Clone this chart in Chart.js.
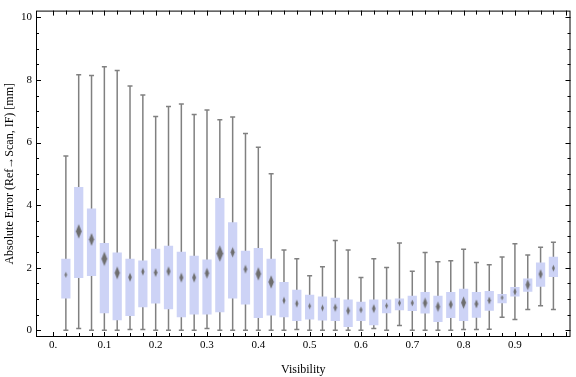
<!DOCTYPE html>
<html>
<head>
<meta charset="utf-8">
<script src="https://cdn.jsdelivr.net/npm/chart.js@4"></script>
<style>
  body { margin: 0; background: #fff; }
  canvas { display: block; }
</style>
</head>
<body>
<canvas id="box" width="576" height="377"></canvas>
<script>
// visibility bins (box centres)
const visibility = [0.025, 0.05, 0.075, 0.1, 0.125, 0.15, 0.175, 0.2, 0.225, 0.25,
  0.275, 0.3, 0.325, 0.35, 0.375, 0.4, 0.425, 0.45, 0.475, 0.5,
  0.525, 0.55, 0.575, 0.6, 0.625, 0.65, 0.675, 0.7, 0.725, 0.75,
  0.775, 0.8, 0.825, 0.85, 0.875, 0.9, 0.925, 0.95, 0.975];

const whiskerLow = [0, 0.05, 0, 0, 0, 0.02, 0.02, 0, 0, 0,
  0, 0.05, 0, 0, 0, 0, 0, 0, 0.02, 0,
  0, 0, 0, 0, 0.05, 0, 0.15, 0, 0, 0,
  0, 0.02, 0.02, 0.03, 0.41, 0.34, 0.66, 0.78, 0.66];

const whiskerHigh = [5.57, 8.17, 8.14, 8.42, 8.30, 7.81, 7.52, 6.83, 7.15, 7.23,
  6.90, 7.04, 6.73, 6.82, 6.29, 5.85, 5.0, 2.56, 2.28, 1.74,
  2.03, 2.87, 2.56, 1.68, 2.28, 2.00, 2.79, 1.88, 2.48, 2.19,
  2.22, 2.59, 2.16, 2.09, 2.34, 2.76, 2.40, 2.65, 2.81];

const q1 = [1.01, 1.67, 1.73, 0.54, 0.32, 0.45, 0.73, 0.85, 0.67, 0.41,
  0.50, 0.50, 0.57, 1.01, 0.82, 0.39, 0.47, 0.41, 0.29, 0.34,
  0.31, 0.29, 0.10, 0.29, 0.16, 0.54, 0.64, 0.61, 0.53, 0.26,
  0.39, 0.29, 0.40, 0.62, 0.86, 1.08, 1.23, 1.39, 1.70];

const q3 = [2.28, 4.58, 3.89, 2.79, 2.48, 2.28, 2.23, 2.60, 2.70, 2.51,
  2.38, 2.26, 4.23, 3.45, 2.54, 2.63, 2.28, 1.54, 1.29, 1.13,
  1.08, 1.04, 0.98, 0.91, 0.98, 0.98, 1.01, 1.10, 1.22, 1.10,
  1.22, 1.32, 1.22, 1.25, 1.16, 1.38, 1.65, 2.16, 2.35];

const mean = [1.77, 3.16, 2.90, 2.28, 1.83, 1.69, 1.87, 1.84, 1.88, 1.68,
  1.68, 1.82, 2.45, 2.49, 1.95, 1.80, 1.54, 0.95, 0.85, 0.77,
  0.71, 0.72, 0.62, 0.65, 0.69, 0.78, 0.87, 0.87, 0.87, 0.75,
  0.82, 0.88, 0.84, 0.95, 1.04, 1.23, 1.45, 1.79, 1.98];

// half height of the mean diamond (confidence interval), in mm
const meanCI = [0.094, 0.235, 0.204, 0.235, 0.204, 0.146, 0.125, 0.141, 0.157, 0.157,
  0.157, 0.172, 0.266, 0.168, 0.141, 0.219, 0.219, 0.12, 0.125, 0.105,
  0.11, 0.136, 0.141, 0.114, 0.146, 0.105, 0.11, 0.114, 0.172, 0.168,
  0.152, 0.199, 0.146, 0.13, 0.089, 0.125, 0.172, 0.157, 0.114];

const xTickValues = [0, 0.1, 0.2, 0.3, 0.4, 0.5, 0.6, 0.7, 0.8, 0.9];
const xTickLabels = ['0.', '0.1', '0.2', '0.3', '0.4', '0.5', '0.6', '0.7', '0.8', '0.9'];
const yTickValues = [0, 2, 4, 6, 8, 10];
const yTickLabels = ['0', '2', '4', '6', '8', '10'];

const serif = "'Liberation Serif', 'Times New Roman', serif";
const grey = 'rgb(128,128,128)';

function diamond(chart, i) {
  const y = chart.scales.y;
  const ppu = y ? Math.abs(y.getPixelForValue(0) - y.getPixelForValue(1)) : 31.9;
  const h = Math.max(4, meanCI[i] * 2 * ppu);
  const w = Math.max(2.5, h * 0.4);
  const c = document.createElement('canvas');
  c.width = Math.ceil(w) + 2;
  c.height = Math.ceil(h) + 2;
  const g = c.getContext('2d');
  const cx = c.width / 2, cy = c.height / 2;
  g.fillStyle = 'rgb(110,110,110)';
  g.beginPath();
  g.moveTo(cx, cy - h / 2);
  g.lineTo(cx + w / 2, cy);
  g.lineTo(cx, cy + h / 2);
  g.lineTo(cx - w / 2, cy);
  g.closePath();
  g.fill();
  return c;
}

const frameTicks = {
  id: 'frameTicks',
  afterDatasetsDraw(chart) {
    const { ctx, chartArea: a, scales: { x, y } } = chart;
    ctx.save();
    ctx.strokeStyle = '#000';
    ctx.lineWidth = 1;
    ctx.strokeRect(a.left + 0.5, a.top + 0.5, a.right - a.left - 1, a.bottom - a.top - 1);
    ctx.beginPath();
    for (let k = 0; k <= 40; k++) {
      const px = Math.round(x.getPixelForValue(k * 0.025)) + 0.5;
      if (px > a.right - 2) continue;
      const len = k % 4 === 0 ? 5 : 4;
      ctx.moveTo(px, a.bottom); ctx.lineTo(px, a.bottom - len);
      ctx.moveTo(px, a.top); ctx.lineTo(px, a.top + len);
    }
    for (let k = 0; k <= 20; k++) {
      const py = Math.round(y.getPixelForValue(k * 0.5)) + 0.5;
      const len = k % 4 === 0 ? 5 : 3;
      ctx.moveTo(a.left, py); ctx.lineTo(a.left + len, py);
      ctx.moveTo(a.right, py); ctx.lineTo(a.right - len, py);
    }
    ctx.stroke();
    ctx.restore();
  }
};

const ctx = document.getElementById('box').getContext('2d');

new Chart(ctx, {
  type: 'bar',
  data: {
    datasets: [
      {
        label: 'whiskers',
        data: visibility.map((v, i) => ({ x: v, y: [whiskerLow[i], whiskerHigh[i]] })),
        backgroundColor: grey,
        maxBarThickness: 1.5,
        grouped: false,
        order: 4
      },
      {
        label: 'boxes',
        data: visibility.map((v, i) => ({ x: v, y: [q1[i], q3[i]] })),
        backgroundColor: 'rgb(205,211,246)',
        borderWidth: 0,
        maxBarThickness: 11,
        grouped: false,
        order: 3
      },
      {
        type: 'scatter',
        label: 'caps',
        data: visibility.map((v, i) => ({ x: v, y: whiskerHigh[i] }))
          .concat(visibility.map((v, i) => ({ x: v, y: whiskerLow[i] }))),
        pointStyle: 'line',
        radius: 2.5,
        borderWidth: 1.5,
        borderColor: grey,
        order: 2
      },
      {
        type: 'scatter',
        label: 'mean',
        data: visibility.map((v, i) => ({ x: v, y: mean[i] })),
        pointStyle: c => diamond(c.chart, c.dataIndex),
        radius: 3,
        order: 1
      }
    ]
  },
  options: {
    responsive: false,
    animation: false,
    layout: { padding: { top: 4, right: 1, left: 0, bottom: 0 } },
    plugins: { legend: { display: false }, tooltip: { enabled: false } },
    scales: {
      x: {
        type: 'linear',
        offset: false,
        min: -0.0332,
        max: 1.0083,
        grid: { display: false, drawTicks: false },
        border: { display: false },
        afterBuildTicks: s => { s.ticks = xTickValues.map(v => ({ value: v })); },
        afterFit: s => { s.height = 40; },
        ticks: {
          autoSkip: false,
          maxRotation: 0,
          padding: 2,
          color: '#000',
          font: { family: serif, size: 11 },
          callback: v => xTickLabels[xTickValues.indexOf(v)]
        },
        title: {
          display: true,
          text: 'Visibility',
          color: '#000',
          font: { family: serif, size: 12 },
          padding: { top: 0, bottom: 0 }
        }
      },
      y: {
        type: 'linear',
        min: -0.219,
        max: 10.219,
        grid: { display: false, drawTicks: false },
        border: { display: false },
        afterBuildTicks: s => { s.ticks = yTickValues.map(v => ({ value: v })); },
        afterFit: s => { s.width = 36; },
        ticks: {
          padding: 4,
          color: '#000',
          font: { family: serif, size: 11 },
          callback: v => yTickLabels[yTickValues.indexOf(v)]
        },
        title: {
          display: true,
          text: 'Absolute Error (Ref\u2192Scan, IF) [mm]',
          color: '#000',
          font: { family: serif, size: 12 },
          padding: { top: 3, bottom: 0 }
        }
      }
    }
  },
  plugins: [frameTicks]
});
</script>
</body>
</html>
